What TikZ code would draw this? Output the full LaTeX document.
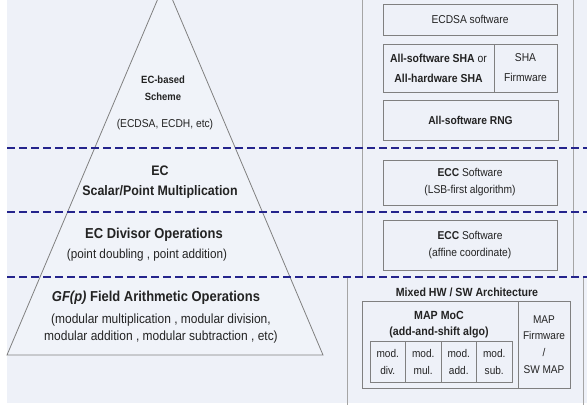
\documentclass[tikz,border=0pt]{standalone}
\usepackage{fontspec}
\setmainfont{Liberation Sans}[FakeStretch=0.9]
\definecolor{bg}{RGB}{238,241,248}
\definecolor{trifill}{RGB}{240,243,249}
\definecolor{boxgray}{RGB}{128,128,128}
\definecolor{framegray}{RGB}{165,165,165}
\definecolor{dashblue}{RGB}{36,36,140}
\definecolor{txt}{RGB}{35,35,35}
\newcommand{\fs}[2]{\fontsize{#1}{#2}\selectfont}
\begin{document}
\begin{tikzpicture}[x=1pt,y=-1pt,
  box/.style={draw=boxgray, line width=0.9pt, fill=bg, inner sep=0pt, text=txt, align=center},
  sepline/.style={draw=dashblue, line width=2.6pt, dash pattern=on 8pt off 4pt},
  frameline/.style={draw=framegray, line width=1pt},
  lbl/.style={text=txt, inner sep=0pt, align=center},
  tri/.style={draw=gray, line width=0.8pt, fill=trifill}
]
\useasboundingbox (0,0) rectangle (587,405);
\clip (0,0) rectangle (587,405);
\fill[bg] (7,0) rectangle (587,403);

% pyramid
\coordinate (apex) at (165,-18);
\coordinate (bl) at (7,355);
\coordinate (br) at (323,355);
\draw[tri] (apex) -- (bl) -- (br) -- cycle;

% frame lines
\coordinate (fa1) at (362,0);   \coordinate (fa2) at (362,277);
\coordinate (fb1) at (573,0);   \coordinate (fb2) at (573,277);
\coordinate (fc1) at (347,277); \coordinate (fc2) at (347,405);
\coordinate (fd1) at (583,277); \coordinate (fd2) at (583,405);
\draw[frameline] (fa1) -- (fa2);
\draw[frameline] (fb1) -- (fb2);
\draw[frameline] (fc1) -- (fc2);
\draw[frameline] (fd1) -- (fd2);

% pyramid texts
\node[lbl, font=\bfseries\fs{10.5}{17}] (t1) at (163,88.5) {EC-based\\Scheme};
\node[lbl, font=\fs{11.4}{12}] (t1b) at (165,125) {(ECDSA, ECDH, etc)};
\node[lbl, font=\bfseries\fs{13.8}{20}] (t2) at (160,182) {EC\\Scalar/Point Multiplication};
\node[lbl, font=\bfseries\fs{14.4}{15}] (t3) at (154,235) {EC Divisor Operations};
\node[lbl, font=\fs{13}{14}] (t3b) at (147,255) {(point doubling , point addition)};
\node[lbl, font=\bfseries\fs{14.4}{15}] (t4) at (156,298) {\textit{GF(p)} Field Arithmetic Operations};
\node[lbl, font=\fs{13.3}{17}] (t4b) at (161,329) {(modular multiplication , modular division,\\modular addition , modular subtraction , etc)};

% right column boxes
\node[box, minimum width=174pt, minimum height=31pt, font=\fs{11.4}{12}] (ecdsa) at (470,19.5) {ECDSA software};
\node[box, minimum width=111pt, minimum height=48pt, font=\fs{11.6}{20}] (shaa) at (438.5,68) {\textbf{All-software SHA} or\\\textbf{All-hardware SHA}};
\node[box, minimum width=63pt, minimum height=48pt, font=\fs{11.4}{20}] (shab) at (525.5,68) {SHA\\Firmware};
\node[box, minimum width=175pt, minimum height=40pt, font=\bfseries\fs{11.4}{12}] (rng) at (470.5,120) {All-software RNG};
\node[box, minimum width=174pt, minimum height=45pt, font=\fs{11.4}{17}] (ecc1) at (470,182.5) {\textbf{ECC} Software\\(LSB-first algorithm)};
\node[box, minimum width=174pt, minimum height=50pt, font=\fs{11.4}{17}] (ecc2) at (470,245) {\textbf{ECC} Software\\(affine coordinate)};

% mixed HW/SW
\node[lbl, font=\bfseries\fs{11.8}{12}] (mixed) at (467,292) {Mixed HW / SW Architecture};
\node[box, minimum width=156pt, minimum height=87pt] (moc) at (440,344.5) {};
\node[box, minimum width=52pt, minimum height=87pt, font=\fs{11.2}{16.7}] (mapfw) at (544,344.5) {MAP\\Firmware\\/\\SW MAP};
\node[lbl, font=\bfseries\fs{11.8}{16}] (moct) at (439,325) {MAP MoC\\(add-and-shift algo)};
\node[box, minimum width=35.5pt, minimum height=41pt, font=\fs{11.2}{17}] (mdiv) at (387.75,361.5) {mod.\\div.};
\node[box, minimum width=35.5pt, minimum height=41pt, font=\fs{11.2}{17}] (mmul) at (423.25,361.5) {mod.\\mul.};
\node[box, minimum width=35.5pt, minimum height=41pt, font=\fs{11.2}{17}] (madd) at (458.75,361.5) {mod.\\add.};
\node[box, minimum width=35.5pt, minimum height=41pt, font=\fs{11.2}{17}] (msub) at (494.25,361.5) {mod.\\sub.};

% dashed separators
\coordinate (s1l) at (7,148); \coordinate (s1r) at (587,148);
\coordinate (s2l) at (7,212); \coordinate (s2r) at (587,212);
\coordinate (s3l) at (7,277); \coordinate (s3r) at (587,277);
\draw[sepline] (s1l) -- (s1r);
\draw[sepline] (s2l) -- (s2r);
\draw[sepline] (s3l) -- (s3r);
\end{tikzpicture}
\end{document}
